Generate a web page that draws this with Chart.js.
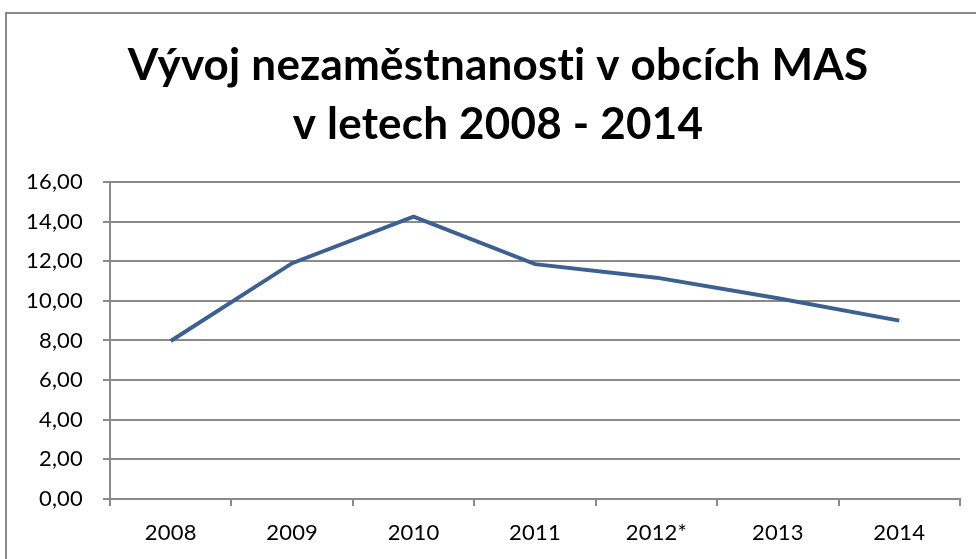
<!DOCTYPE html>
<html>
<head>
<meta charset="utf-8">
<script src="https://cdn.jsdelivr.net/npm/chart.js@4.4.0/dist/chart.umd.min.js"></script>
<style>
  html, body { margin: 0; padding: 0; background: #fff; overflow: hidden; }
  #frame { position: absolute; left: 5px; top: 12px; width: 1100px; height: 700px; border: 2px solid #8a8a8a; box-sizing: border-box; }
  #wrap { position: absolute; left: 0; top: 0; width: 976px; height: 559px; }
</style>
</head>
<body>
<div id="frame"></div>
<div id="wrap"><canvas id="c" width="976" height="559"></canvas></div>
<script>
const categories = ["2008", "2009", "2010", "2011", "2012*", "2013", "2014"];
const unemployment = [7.97, 11.90, 14.25, 11.85, 11.17, 10.13, 9.00];
const titleLines = ["Vývoj nezaměstnanosti v obcích MAS", "v letech 2008 - 2014"];
const yMin = 0, yMax = 16, yStep = 2;

const FONT = "Lato, 'Open Sans', sans-serif";
const GRID = "#8a8a8a";

const noLigatures = {
  id: "noLigatures",
  beforeInit(chart) { chart.ctx.letterSpacing = "0.2px"; },
  beforeLayout(chart) { chart.ctx.letterSpacing = "0.2px"; },
  beforeDraw(chart) { chart.ctx.letterSpacing = "0.2px"; }
};

new Chart(document.getElementById("c"), {
  type: "line",
  data: {
    labels: categories,
    datasets: [{
      data: unemployment,
      borderColor: "#3c6090",
      borderWidth: 4,
      pointRadius: 0,
      tension: 0,
      fill: false
    }]
  },
  options: {
    responsive: false,
    animation: false,
    layout: { padding: { left: 20, right: 0, top: 0, bottom: 0 } },
    plugins: {
      legend: { display: false },
      tooltip: { enabled: false },
      title: {
        display: true,
        text: titleLines,
        color: "#000",
        font: { family: FONT, size: 44, weight: "bold", lineHeight: 1.34 },
        padding: { top: 36, bottom: 28 }
      }
    },
    scales: {
      x: {
        offset: true,
        afterFit: s => { s.height = 60; },
        grid: { offset: true, drawOnChartArea: false, drawTicks: true, tickLength: 7, color: GRID, lineWidth: 2 },
        border: { display: true, color: GRID, width: 2 },
        ticks: { color: "#000", font: { family: FONT, size: 22 }, padding: 14, maxRotation: 0 }
      },
      y: {
        min: yMin, max: yMax,
        afterFit: s => { s.width = 90; },
        grid: { color: GRID, lineWidth: 2, tickLength: 7 },
        border: { display: true, color: GRID, width: 2 },
        ticks: {
          stepSize: yStep,
          color: "#000",
          font: { family: FONT, size: 22 },
          padding: 20,
          callback: v => Number(v).toFixed(2).replace(".", ",")
        }
      },
      spacer: {
        type: "linear",
        position: "right",
        display: true,
        afterFit: s => { s.width = 16; },
        grid: { display: false, drawTicks: false },
        border: { display: false },
        ticks: { display: false }
      }
    }
  },
  plugins: [noLigatures]
});
</script>
</body>
</html>
